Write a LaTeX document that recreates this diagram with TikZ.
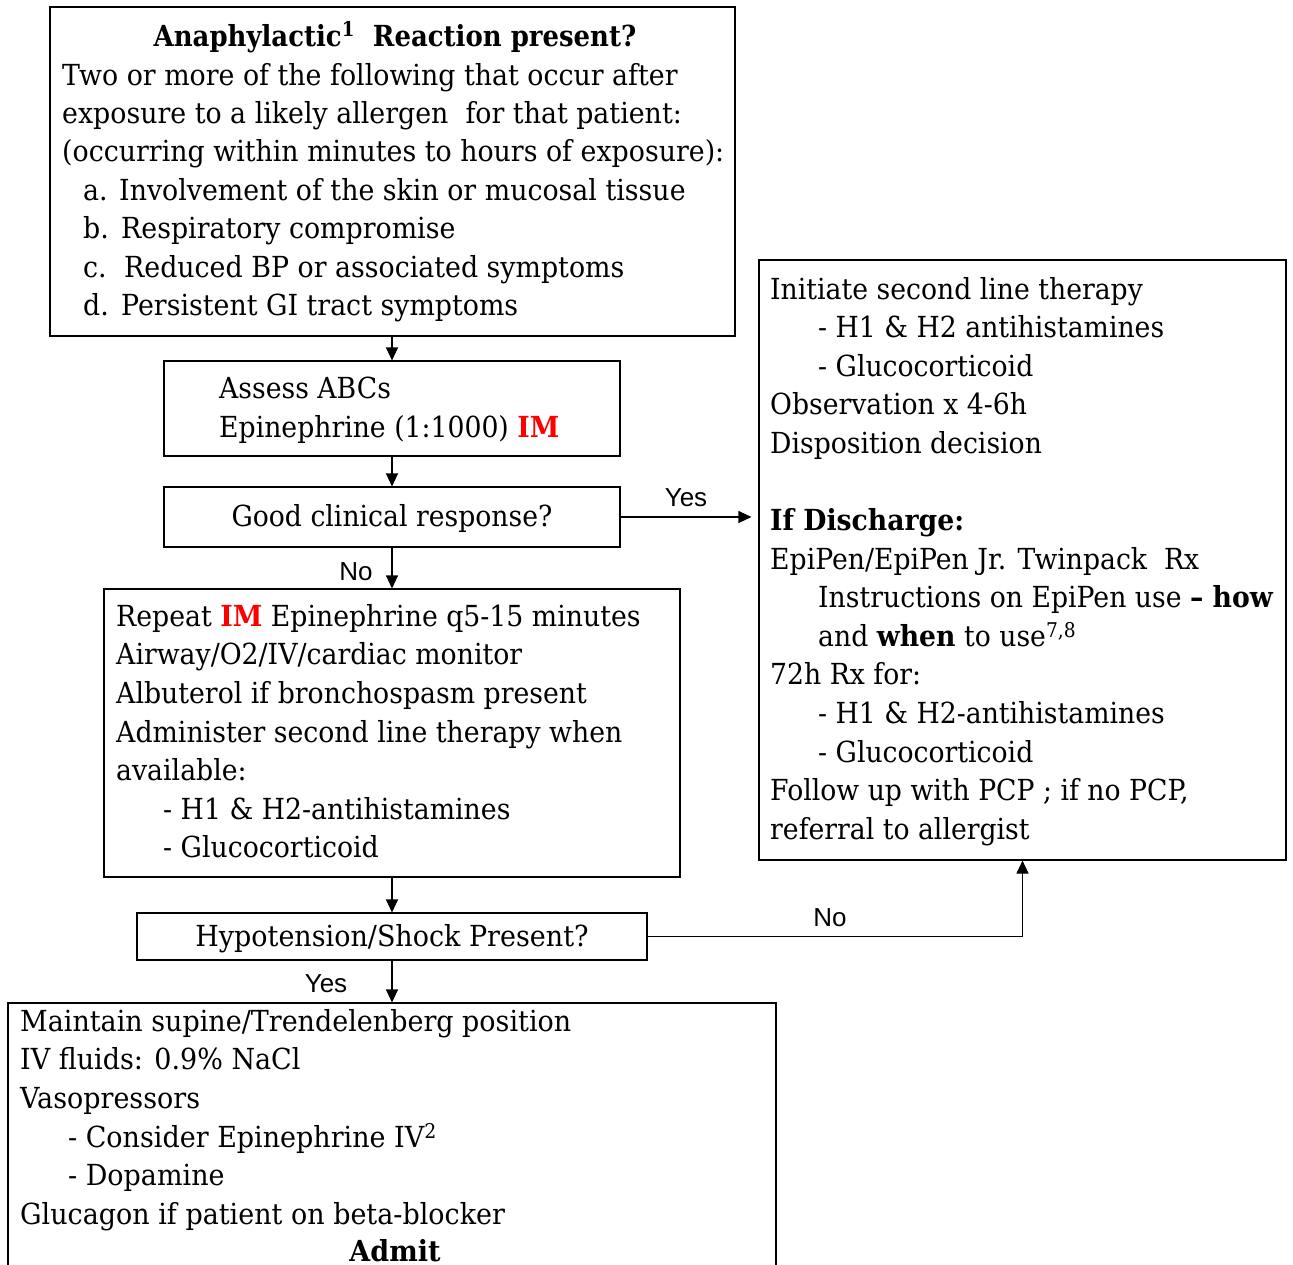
\documentclass[tikz,border=0pt]{standalone}
\usepackage{fontspec}
\setmainfont{DejaVu Serif}
\setsansfont{Liberation Sans}
\newfontfamily\fTtl[FakeStretch=0.895]{DejaVu Serif}
\newfontfamily\fTop[FakeStretch=0.925]{DejaVu Serif}
\newfontfamily\fMid[FakeStretch=0.92]{DejaVu Serif}
\newfontfamily\fRep[FakeStretch=0.922]{DejaVu Serif}
\newfontfamily\fRight[FakeStretch=0.92]{DejaVu Serif}
\newfontfamily\fBot[FakeStretch=0.93]{DejaVu Serif}
\newfontfamily\fHyp[FakeStretch=0.93]{DejaVu Serif}
\usetikzlibrary{arrows.meta}
\definecolor{imred}{RGB}{255,0,0}
\newcommand{\IM}{\textcolor{imred}{\bfseries IM}}
\begin{document}
\begin{tikzpicture}[x=1pt,y=-1pt,
  box/.style={draw, line width=1.1pt, inner sep=0pt, minimum width=#1},
  txt/.style={inner sep=0pt, align=left, anchor=north west},
  arr/.style={line width=1.1pt, -{Triangle[length=13pt,width=12pt]}},
  lab/.style={inner sep=0pt, font=\sffamily\fontsize{26}{30}\selectfont},
  ]
\useasboundingbox (0,0) rectangle (1293,1264);
% boxes
\node[box=685, minimum height=329] (top) at (392.5,171.5) {};
\node[box=456, minimum height=95] (assess) at (392,408.5) {};
\node[box=456, minimum height=60] (good) at (392,517) {};
\node[box=576, minimum height=288] (rep) at (392,733) {};
\node[box=510, minimum height=47] (hyp) at (392,936.5) {};
\node[box=768, minimum height=300] (bot) at (392,1153) {};
\node[box=527, minimum height=600] (right) at (1022.5,560) {};
% texts
\node[inner sep=0pt, anchor=base, font=\fTtl\bfseries\fontsize{29}{38.4}\selectfont] (ttl) at (395,46) {Anaphylactic\textsuperscript{1}\ \ Reaction present?};
\node[txt, font=\fTop\fontsize{29}{38.4}\selectfont] (ttxt) at (62,58) {\strut Two or more of the following that occur after\\
exposure to a likely allergen\ \ for that patient:\\
(occurring within minutes to hours of exposure):\\
\hspace*{21pt}\makebox[36pt][l]{a.}Involvement of the skin or mucosal tissue\\
\hspace*{21pt}\makebox[38pt][l]{b.}Respiratory compromise\\
\hspace*{21pt}\makebox[41pt][l]{c.}Reduced BP or associated symptoms\\
\hspace*{21pt}\makebox[38pt][l]{d.}Persistent GI tract symptoms};
\node[txt, font=\fMid\fontsize{29}{38.9}\selectfont] (atxt) at (219,371) {\strut Assess ABCs\\ Epinephrine (1:1000) \IM};
\node[inner sep=0pt, anchor=base, font=\fMid\fontsize{29}{38.4}\selectfont] (gtxt) at (392,526) {Good clinical response?};
\node[txt, font=\fRep\fontsize{29}{38.6}\selectfont] (rtxt) at (116,599) {\strut Repeat \IM{} Epinephrine q5-15 minutes\\
Airway/O2/IV/cardiac monitor\\
Albuterol if bronchospasm present\\
Administer second line therapy when\\
available:\\
\hspace*{47pt}- H1 \& H2-antihistamines\\
\hspace*{47pt}- Glucocorticoid};
\node[inner sep=0pt, anchor=base, font=\fHyp\fontsize{29}{38.4}\selectfont] (htxt) at (392,946) {Hypotension/Shock Present?};
\node[txt, font=\fBot\fontsize{29}{38.6}\selectfont] (btxt) at (20,1004) {\strut Maintain supine/Trendelenberg position\\
IV fluids: 0.9\% NaCl\\
Vasopressors\\
\hspace*{48pt}- Consider Epinephrine IV\textsuperscript{2}\\
\hspace*{48pt}- Dopamine\\
Glucagon if patient on beta-blocker};
\node[inner sep=0pt, anchor=base, font=\fBot\bfseries\fontsize{29}{38.4}\selectfont] (admit) at (395,1261) {Admit};
\node[txt, font=\fRight\fontsize{29}{38.57}\selectfont] (rgt) at (770,272) {\strut Initiate second line therapy\\
\hspace*{48pt}- H1 \& H2 antihistamines\\
\hspace*{48pt}- Glucocorticoid\\
Observation x 4-6h\\
Disposition decision\\
\strut\\
\textbf{If Discharge:}\\
EpiPen/EpiPen Jr. Twinpack\ \ Rx\\
\hspace*{48pt}Instructions on EpiPen use \textbf{– how}\\
\hspace*{48pt}and \textbf{when} to use\textsuperscript{7,8}\\
72h Rx for:\\
\hspace*{48pt}- H1 \& H2-antihistamines\\
\hspace*{48pt}- Glucocorticoid\\
Follow up with PCP ; if no PCP,\\
referral to allergist};
% connectors
\draw[arr] (assess.north |- top.south) -- (assess.north);
\draw[arr] (assess.south) -- (good.north);
\draw[arr] (good.east) -- ([xshift=-7pt]good.east -| right.west);
\draw[arr] (good.south) -- (rep.north);
\draw[arr] (rep.south) -- (hyp.north);
\draw[arr] (hyp.south) -- (bot.north);
\draw[arr] (hyp.east) -| (right.south);
% labels
\node[lab] (lyes1) at (686,498) {Yes};
\node[lab] (lno1) at (356,572) {No};
\node[lab] (lno2) at (830,918) {No};
\node[lab] (lyes2) at (326,984) {Yes};
\end{tikzpicture}
\end{document}
